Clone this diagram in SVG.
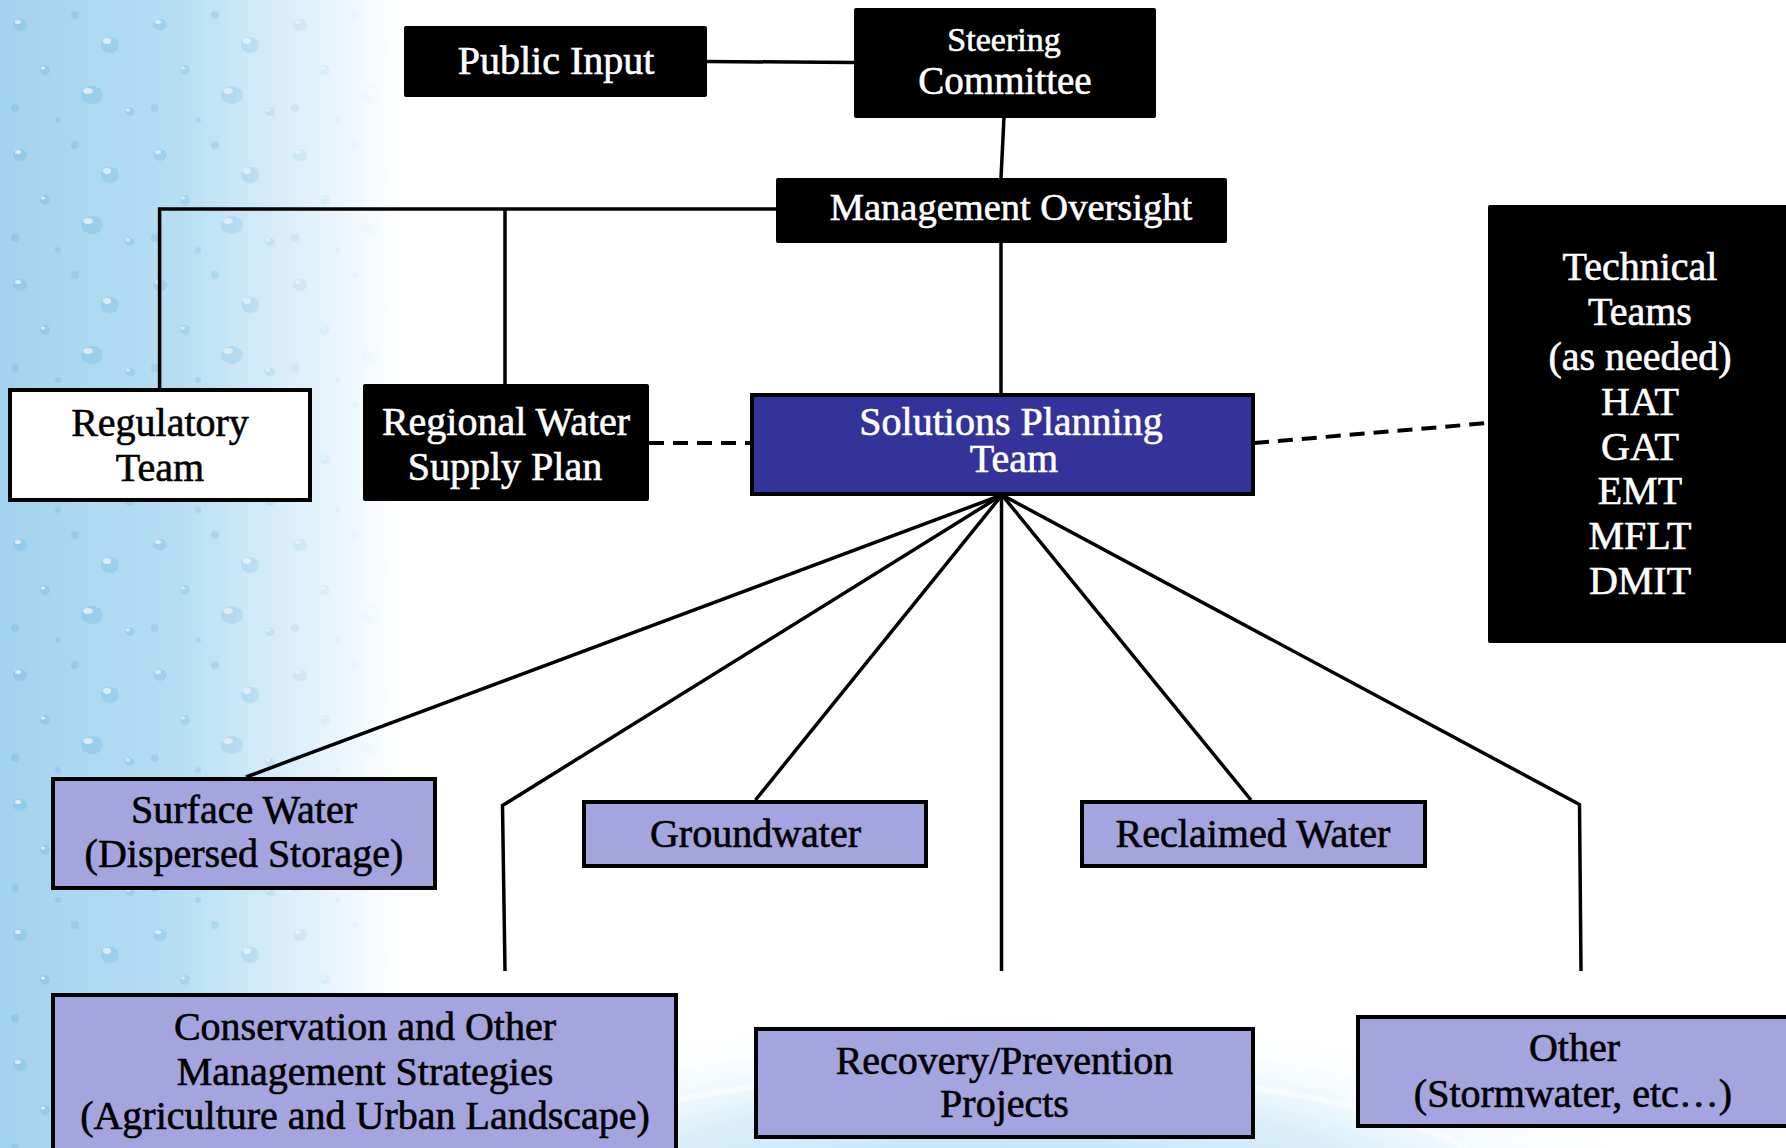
<svg xmlns="http://www.w3.org/2000/svg" width="1786" height="1148" viewBox="0 0 1786 1148">
<style>
  .t { font-family: "Liberation Serif", "Times New Roman", serif; font-size: 40px; text-anchor: middle; }
  .w { fill: #ffffff; stroke: #ffffff; stroke-width: 0.6px; }
  .k { fill: #000000; stroke: #000000; stroke-width: 0.6px; }
  .blk { fill: #000000; }
  .wht { fill: #ffffff; stroke: #000000; stroke-width: 4; }
  .pur { fill: #a4a4df; stroke: #000000; stroke-width: 4; }
  .spt { fill: #333399; stroke: #000000; stroke-width: 4; }
  .ln { fill: none; stroke: #000000; stroke-width: 3.5; stroke-linejoin: miter; }
  .dash { fill: none; stroke: #000000; stroke-width: 4; stroke-dasharray: 15 9; }
</style>
<defs>
  <linearGradient id="bgL" gradientUnits="userSpaceOnUse" x1="0" y1="0" x2="400" y2="0">
    <stop offset="0" stop-color="#a2d3ee"/>
    <stop offset="0.45" stop-color="#b6def3"/>
    <stop offset="0.78" stop-color="#e2f2fb"/>
    <stop offset="1" stop-color="#ffffff"/>
  </linearGradient>
  <linearGradient id="fadeG" gradientUnits="userSpaceOnUse" x1="0" y1="0" x2="390" y2="0">
    <stop offset="0" stop-color="#ffffff"/>
    <stop offset="0.6" stop-color="#ffffff" stop-opacity="0.7"/>
    <stop offset="1" stop-color="#ffffff" stop-opacity="0"/>
  </linearGradient>
  <mask id="fadeMask">
    <rect x="0" y="0" width="400" height="1148" fill="url(#fadeG)"/>
  </mask>
  <radialGradient id="bgB" gradientUnits="userSpaceOnUse" cx="1000" cy="1230" r="700" gradientTransform="translate(1000 1230) scale(1 0.32) translate(-1000 -1230)">
    <stop offset="0" stop-color="#9fd2ee" stop-opacity="0.9"/>
    <stop offset="0.6" stop-color="#bfe3f5" stop-opacity="0.6"/>
    <stop offset="1" stop-color="#ffffff" stop-opacity="0"/>
  </radialGradient>
  <pattern id="drops" width="140" height="130" patternUnits="userSpaceOnUse">
    <g fill="#6fb6dd" fill-opacity="0.35">
      <ellipse cx="20" cy="25" rx="7" ry="6"/>
      <ellipse cx="75" cy="15" rx="4" ry="4"/>
      <ellipse cx="110" cy="45" rx="9" ry="8"/>
      <ellipse cx="45" cy="70" rx="5" ry="5"/>
      <ellipse cx="92" cy="95" rx="11" ry="9"/>
      <ellipse cx="15" cy="108" rx="4" ry="4"/>
      <ellipse cx="130" cy="112" rx="5" ry="4"/>
      <ellipse cx="58" cy="120" rx="3" ry="3"/>
    </g>
    <g fill="#ffffff" fill-opacity="0.7">
      <ellipse cx="18" cy="22" rx="3" ry="2"/>
      <ellipse cx="107" cy="41" rx="4" ry="3"/>
      <ellipse cx="43" cy="68" rx="2" ry="1.5"/>
      <ellipse cx="88" cy="91" rx="5" ry="3"/>
      <ellipse cx="128" cy="110" rx="2" ry="1.5"/>
    </g>
  </pattern>
</defs>

<g id="background">
  <rect x="0" y="0" width="1786" height="1148" fill="#ffffff"/>
  <rect x="0" y="0" width="400" height="1148" fill="url(#bgL)"/>
  <rect x="0" y="0" width="400" height="1148" fill="url(#drops)" mask="url(#fadeMask)"/>
  <ellipse cx="1000" cy="1230" rx="760" ry="250" fill="url(#bgB)"/>
  <g fill="none" stroke="#ffffff" stroke-opacity="0.55" stroke-width="6">
    <ellipse cx="1000" cy="1210" rx="520" ry="140"/>
    <ellipse cx="1000" cy="1215" rx="620" ry="175"/>
    <ellipse cx="1000" cy="1220" rx="700" ry="205"/>
  </g>
</g>

<g id="connectors">
  <line class="ln" x1="707" y1="61.5" x2="854" y2="62.5"/>
  <line class="ln" x1="1004" y1="117" x2="1001" y2="178"/>
  <polyline class="ln" points="776,209 159.6,209 159.6,389"/>
  <line class="ln" x1="505" y1="209" x2="505" y2="384"/>
  <line class="ln" x1="1001" y1="243" x2="1001" y2="393"/>
  <line class="dash" x1="649" y1="443" x2="750" y2="443"/>
  <line class="dash" x1="1254" y1="443" x2="1488" y2="423"/>
  <line class="ln" x1="1002" y1="495" x2="246" y2="777"/>
  <polyline class="ln" points="1002,495 502.5,805.5 505,971"/>
  <line class="ln" x1="1002" y1="495" x2="755.5" y2="800"/>
  <line class="ln" x1="1001.5" y1="495" x2="1001.5" y2="971"/>
  <line class="ln" x1="1002" y1="495" x2="1251" y2="800"/>
  <polyline class="ln" points="1002,495 1579.5,804.5 1581,971"/>
</g>

<g id="public-input">
  <rect class="blk" x="404" y="26" width="303" height="71" rx="2"/>
  <text class="t w" x="556" y="73.5">Public Input</text>
</g>

<g id="steering-committee">
  <rect class="blk" x="854" y="8" width="302" height="110" rx="2"/>
  <text class="t w" x="1004" y="50.5" style="font-size:34px">Steering</text>
  <text class="t w" x="1005" y="93.5" style="font-size:39px">Committee</text>
</g>

<g id="management-oversight">
  <rect class="blk" x="776" y="178" width="451" height="65" rx="2"/>
  <text class="t w" x="1011" y="220" style="font-size:38.5px">Management Oversight</text>
</g>

<g id="regulatory-team">
  <rect class="wht" x="10" y="390" width="300" height="110"/>
  <text class="t k" x="160" y="436">Regulatory</text>
  <text class="t k" x="160" y="480.5">Team</text>
</g>

<g id="regional-water-supply-plan">
  <rect class="blk" x="363" y="384" width="286" height="117" rx="2"/>
  <text class="t w" x="506" y="434.5">Regional Water</text>
  <text class="t w" x="505" y="479.5">Supply Plan</text>
</g>

<g id="solutions-planning-team">
  <rect class="spt" x="752" y="395" width="501" height="99"/>
  <text class="t w" x="1011" y="435">Solutions Planning</text>
  <text class="t w" x="1014" y="471.5">Team</text>
</g>

<g id="technical-teams">
  <rect class="blk" x="1488" y="205" width="310" height="438" rx="2"/>
  <text class="t w" x="1640" y="280">Technical</text>
  <text class="t w" x="1640" y="325">Teams</text>
  <text class="t w" x="1640" y="370">(as needed)</text>
  <text class="t w" x="1640" y="414.5">HAT</text>
  <text class="t w" x="1640" y="459.5">GAT</text>
  <text class="t w" x="1640" y="504">EMT</text>
  <text class="t w" x="1640" y="549">MFLT</text>
  <text class="t w" x="1640" y="594">DMIT</text>
</g>

<g id="surface-water">
  <rect class="pur" x="53" y="779" width="382" height="109"/>
  <text class="t k" x="244" y="823">Surface Water</text>
  <text class="t k" x="244" y="867">(Dispersed Storage)</text>
</g>

<g id="groundwater">
  <rect class="pur" x="584" y="802" width="342" height="64"/>
  <text class="t k" x="755.5" y="847">Groundwater</text>
</g>

<g id="reclaimed-water">
  <rect class="pur" x="1082" y="802" width="343" height="64"/>
  <text class="t k" x="1253" y="847">Reclaimed Water</text>
</g>

<g id="conservation">
  <rect class="pur" x="53" y="995" width="623" height="170"/>
  <text class="t k" x="365" y="1040">Conservation and Other</text>
  <text class="t k" x="365" y="1084.5">Management Strategies</text>
  <text class="t k" x="365" y="1129">(Agriculture and Urban Landscape)</text>
</g>

<g id="recovery-prevention">
  <rect class="pur" x="756" y="1029" width="497" height="108"/>
  <text class="t k" x="1004.5" y="1073.5">Recovery/Prevention</text>
  <text class="t k" x="1004.5" y="1117">Projects</text>
</g>

<g id="other">
  <rect class="pur" x="1358" y="1017" width="440" height="109"/>
  <text class="t k" x="1574.5" y="1061">Other</text>
  <text class="t k" x="1573" y="1107">(Stormwater, etc…)</text>
</g>
</svg>
